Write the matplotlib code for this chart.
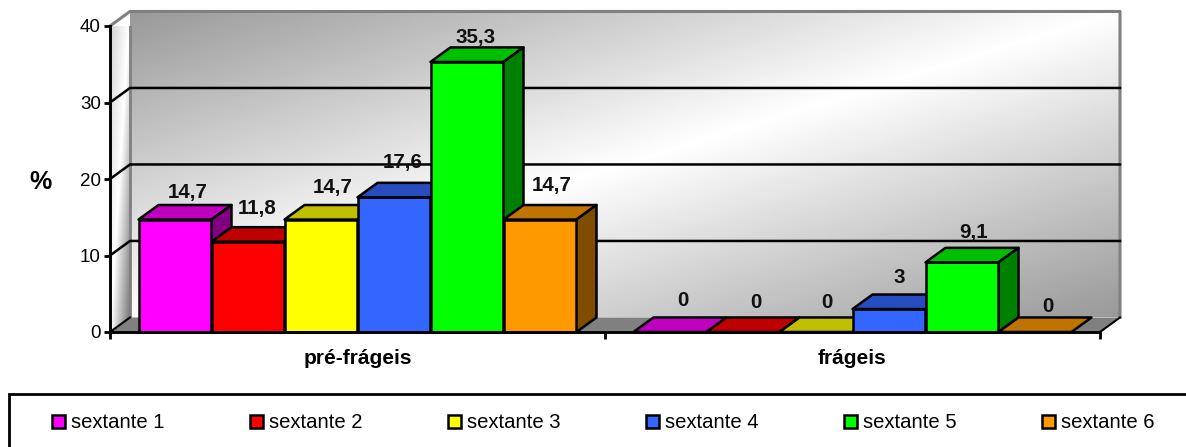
import numpy as np
from matplotlib import pyplot as plt
from matplotlib.patches import Patch, Polygon, Rectangle

WIDTH_PX = 1186
HEIGHT_PX = 447

plt.rcParams["font.family"] = ["Liberation Sans", "DejaVu Sans"]

groups = ["pré-frágeis", "frágeis"]
series_names = ["sextante 1", "sextante 2", "sextante 3", "sextante 4", "sextante 5", "sextante 6"]
pre_frageis = [14.7, 11.8, 14.7, 17.6, 35.3, 14.7]
frageis = [0, 0, 0, 3, 9.1, 0]
y_ticks = [0, 10, 20, 30, 40]

front_colors = ["#FF00FF", "#FF0000", "#FFFF00", "#3366FF", "#00FF00", "#FF9900"]
top_colors = ["#BF00BF", "#BF0000", "#BFBF00", "#264CBF", "#00BF00", "#BF7300"]
side_colors = ["#800080", "#800000", "#808000", "#1A3380", "#008000", "#804D00"]

# hand placed data labels in the original, offsets in pixels from the bar top
label_dx = [[12.5, 9.5, 11.5, 9, 8.5, 12], [12.5, 12.5, 11, 10.5, 11.5, 12.5]]
label_dy = [[27, 33, 32, 34.5, 24, 34.5], [31.5, 30, 30, 32, 29.5, 26]]

DEPTH_X = 20 / 495
DEPTH_Y = 1.9
BAR_WIDTH = 73 / 495
LINE = 1.8
WALL_GREY = "#808080"


def draw_walls(ax) -> None:
    u, v = np.meshgrid(np.linspace(0, 1, 300), np.linspace(0, 1, 150))
    shade = 0.6 + 0.4 * (1 - np.abs(1 - (u + v)))
    ax.imshow(
        shade,
        cmap="gray",
        vmin=0,
        vmax=1,
        aspect="auto",
        extent=(DEPTH_X, 2 + DEPTH_X, DEPTH_Y, 40 + DEPTH_Y),
        origin="upper",
        clip_on=False,
        zorder=0,
    )

    # side wall: light at the top left, white in the middle, dark at the bottom right
    u, v = np.meshgrid(np.linspace(0, 1, 40), np.linspace(0, 1, 150))
    t = u + v
    side = np.where(t < 1, 0.82 + 0.18 * t, 1 - 0.55 * (t - 1))
    side_image = ax.imshow(
        side,
        cmap="gray",
        vmin=0,
        vmax=1,
        aspect="auto",
        extent=(0, DEPTH_X, 0, 40 + DEPTH_Y),
        origin="upper",
        zorder=0,
    )
    side_clip = Polygon(
        [(0, 0), (DEPTH_X, DEPTH_Y), (DEPTH_X, 40 + DEPTH_Y), (0, 40)],
        transform=ax.transData,
    )
    side_image.set_clip_path(side_clip)

    ax.add_patch(
        Polygon(
            [(0, 0), (DEPTH_X, DEPTH_Y), (2 + DEPTH_X, DEPTH_Y), (2, 0)],
            facecolor=WALL_GREY,
            edgecolor="none",
            clip_on=False,
            zorder=0.5,
        )
    )
    ax.plot(
        [0, DEPTH_X, 2 + DEPTH_X, 2 + DEPTH_X],
        [40, 40 + DEPTH_Y, 40 + DEPTH_Y, DEPTH_Y],
        color=WALL_GREY,
        lw=2.2,
        clip_on=False,
        zorder=0.6,
    )
    ax.plot([DEPTH_X, DEPTH_X], [DEPTH_Y, 40 + DEPTH_Y], color=WALL_GREY, lw=2.0, zorder=0.6)

    for value in y_ticks[1:-1]:
        ax.plot(
            [0, DEPTH_X, 2 + DEPTH_X],
            [value, value + DEPTH_Y, value + DEPTH_Y],
            color="black",
            lw=LINE,
            clip_on=False,
            zorder=1,
        )

    # floor edges at both ends
    for x in [0, 2]:
        ax.plot([x, x + DEPTH_X], [0, DEPTH_Y], color="black", lw=1.5, clip_on=False, zorder=1)

    ax.set_xlim(0, 2)
    ax.set_ylim(0, 40)


def draw_bar(ax, left, value, index, order) -> None:
    right = left + BAR_WIDTH
    z = 2 + order * 0.01
    ax.bar(
        left,
        value,
        width=BAR_WIDTH,
        align="edge",
        color=front_colors[index],
        edgecolor="black",
        linewidth=LINE,
        clip_on=False,
        zorder=z,
    )
    ax.add_patch(
        Polygon(
            [
                (left, value),
                (left + DEPTH_X, value + DEPTH_Y),
                (right + DEPTH_X, value + DEPTH_Y),
                (right, value),
            ],
            facecolor=top_colors[index],
            edgecolor="black",
            linewidth=LINE,
            joinstyle="round",
            clip_on=False,
            zorder=z,
        )
    )
    if value > 0:
        ax.add_patch(
            Polygon(
                [
                    (right, 0),
                    (right + DEPTH_X, DEPTH_Y),
                    (right + DEPTH_X, value + DEPTH_Y),
                    (right, value),
                ],
                facecolor=side_colors[index],
                edgecolor="black",
                linewidth=LINE,
                joinstyle="round",
                clip_on=False,
                zorder=z,
            )
        )


def main() -> None:
    fig = plt.figure(figsize=(WIDTH_PX / 100, HEIGHT_PX / 100), dpi=100)
    ax = fig.add_axes([110 / WIDTH_PX, 1 - 332 / HEIGHT_PX, 990 / WIDTH_PX, 306 / HEIGHT_PX])
    ax.patch.set_visible(False)

    draw_walls(ax)

    margin = (1 - 6 * BAR_WIDTH) / 2
    order = 0
    for g, values in enumerate([pre_frageis, frageis]):
        for i, value in enumerate(values):
            left = g + margin + i * BAR_WIDTH
            draw_bar(ax, left, value, i, order)
            order += 1
            ax.annotate(
                str(value).replace(".", ","),
                xy=(left + BAR_WIDTH / 2, value),
                xytext=(label_dx[g][i], label_dy[g][i]),
                textcoords="offset pixels",
                ha="center",
                va="center",
                fontsize=14.8,
                fontweight="bold",
                color="#111111",
                annotation_clip=False,
                zorder=5,
            )

    for side in ["top", "right"]:
        ax.spines[side].set_visible(False)
    for side in ["left", "bottom"]:
        ax.spines[side].set_linewidth(2.1)
        ax.spines[side].set_zorder(4)

    ax.set_yticks(y_ticks)
    ax.tick_params(axis="y", labelsize=13.5, length=4, width=2.0, pad=2.5)
    ax.set_xticks([0, 1, 2])
    ax.set_xticklabels([])
    ax.tick_params(axis="x", which="major", length=5, width=2.0)
    ax.set_xticks([0.5, 1.5], minor=True)
    ax.set_xticklabels(groups, minor=True, fontsize=15, fontweight="bold")
    ax.tick_params(axis="x", which="minor", length=0, pad=12)

    fig.text(41 / WIDTH_PX, 1 - 182 / HEIGHT_PX, "%", fontsize=18, fontweight="bold", ha="center", va="center")

    # the legend frame runs past the right and bottom edges of the picture
    fig.add_artist(
        Rectangle(
            (9 / WIDTH_PX, -10 / HEIGHT_PX),
            1190 / WIDTH_PX,
            (447 - 393.5 + 10) / HEIGHT_PX,
            transform=fig.transFigure,
            facecolor="white",
            edgecolor="black",
            linewidth=2.0,
            clip_on=False,
        )
    )
    handles = [Patch(facecolor=c, edgecolor="black", linewidth=LINE) for c in front_colors]
    fig.legend(
        handles,
        series_names,
        ncol=6,
        loc="center left",
        bbox_to_anchor=(52 / WIDTH_PX, 1 - 423 / HEIGHT_PX),
        fontsize=14.6,
        frameon=False,
        borderaxespad=0,
        borderpad=0,
        handlelength=0.65,
        handleheight=0.65,
        handletextpad=0.3,
        columnspacing=4.2,
    )

    fig.savefig("out.png", dpi=100)
    plt.close(fig)


if __name__ == "__main__":
    main()
